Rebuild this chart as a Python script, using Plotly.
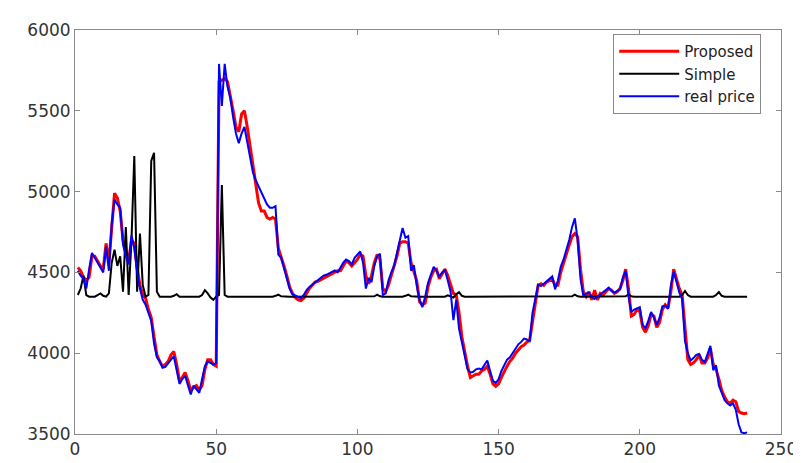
import plotly.graph_objects as go

x_idx = list(range(1, 239))

real_price = [
    4510, 4480, 4460, 4400, 4520, 4620, 4590, 4560, 4530, 4500,
    4660, 4510, 4800, 4950, 4920, 4900, 4670, 4600, 4550, 4730,
    4650, 4500, 4400, 4330, 4300, 4250, 4200, 4060, 3975, 3950,
    3910, 3915, 3940, 3960, 3980, 3890, 3810, 3840, 3860, 3800,
    3745, 3800, 3780, 3755, 3840, 3920, 3950, 3940, 3930, 3940,
    5790, 5530, 5790, 5650, 5580, 5460, 5360, 5300, 5360, 5400,
    5300, 5200, 5120, 5070, 5030, 4990, 4950, 4920, 4900, 4900,
    4910, 4610, 4590, 4530, 4460, 4400, 4365, 4355, 4345, 4340,
    4360, 4390, 4410, 4425, 4440, 4455, 4470, 4480, 4485, 4495,
    4500, 4512, 4500, 4530, 4560, 4580, 4570, 4550, 4590, 4610,
    4630, 4560, 4400, 4465, 4440, 4540, 4600, 4615, 4360, 4370,
    4450, 4500, 4540, 4620, 4700, 4775, 4715, 4725, 4510, 4545,
    4420, 4330, 4285, 4350, 4435, 4480, 4535, 4510, 4475, 4500,
    4515, 4450, 4380, 4205, 4330, 4150, 4060, 3980, 3900, 3880,
    3885, 3900, 3905, 3900, 3930, 3955, 3890, 3830, 3815, 3840,
    3890, 3930, 3960, 3975, 4000, 4030, 4055, 4070, 4090, 4085,
    4075, 4250, 4350, 4425, 4415, 4430, 4450, 4460, 4475, 4395,
    4450, 4535, 4580, 4640, 4700, 4780, 4835, 4700, 4460, 4355,
    4370, 4375, 4350, 4335, 4350, 4365, 4380, 4395, 4405, 4385,
    4375, 4385, 4395, 4470, 4510, 4350, 4255, 4270, 4280, 4285,
    4175, 4155, 4200, 4255, 4220, 4175, 4220, 4290, 4295, 4275,
    4420, 4505, 4440, 4375, 4335, 4075, 4000, 3955, 3970, 3990,
    3995, 3960, 3945, 4000, 4045, 3895, 3925, 3800, 3755, 3710,
    3690, 3676, 3690, 3650, 3560, 3510, 3505, 3510,
]

proposed = [
    4530, 4510, 4470, 4450, 4470, 4600, 4600, 4570, 4540, 4520,
    4680, 4560, 4780, 4990, 4960, 4880, 4700, 4640, 4570, 4700,
    4680, 4530, 4420, 4360, 4340, 4270, 4220, 4100, 3990, 3950,
    3920, 3930, 3950, 3990, 4010, 3930, 3830, 3850, 3880, 3830,
    3770, 3790, 3800, 3770, 3800, 3900, 3960, 3960, 3930, 3920,
    5680, 5690, 5700, 5680, 5600, 5500, 5400, 5370, 5480, 5500,
    5400, 5280, 5150, 5020, 4930, 4880, 4880, 4840, 4830, 4840,
    4830, 4650, 4600, 4540, 4480, 4410, 4370, 4345, 4330, 4325,
    4340, 4370, 4400, 4420, 4440, 4445, 4455, 4465, 4470, 4480,
    4490, 4500, 4510, 4510, 4540, 4570, 4560, 4540, 4560, 4580,
    4610, 4600, 4480, 4430, 4480, 4560, 4610, 4580, 4400, 4380,
    4420, 4480, 4530, 4600, 4680, 4690, 4690, 4680, 4560, 4500,
    4450, 4320, 4300, 4310, 4410, 4470, 4510, 4520, 4460, 4490,
    4520, 4480, 4420, 4370, 4360, 4250, 4100, 4000, 3920, 3850,
    3860, 3870, 3870, 3890, 3900, 3920, 3870, 3810, 3795, 3810,
    3850, 3890, 3920, 3950, 3970, 4000, 4020, 4040, 4050, 4070,
    4080, 4200, 4330, 4420, 4430, 4420, 4440, 4450, 4460, 4420,
    4420, 4500, 4560, 4620, 4670, 4720, 4740, 4720, 4520, 4380,
    4350, 4380, 4330, 4390, 4330, 4370, 4360, 4380, 4400, 4390,
    4370, 4380, 4400, 4450, 4520, 4400, 4230, 4240, 4270, 4260,
    4160, 4130, 4170, 4240, 4230, 4160, 4190, 4270, 4300, 4280,
    4380, 4520, 4460, 4400, 4360, 4150, 3960, 3930, 3940, 3960,
    3990, 3940, 3940, 3970, 4030, 3930, 3900, 3840, 3770, 3730,
    3700, 3690, 3710, 3700, 3640, 3630, 3625, 3630,
]

simple = [
    4360, 4400, 4480, 4360, 4350, 4350, 4350, 4360, 4370, 4355,
    4350, 4370, 4560, 4640, 4540, 4600, 4380, 4780, 4360, 4700,
    5220, 4380, 4740, 4420, 4350, 4360, 5190, 5240, 4380, 4350,
    4350, 4350, 4350, 4350, 4355, 4365, 4350, 4350, 4350, 4350,
    4350, 4350, 4350, 4350, 4360, 4390, 4370, 4345, 4330, 4350,
    4360, 5040, 4360, 4350, 4350, 4350, 4350, 4350, 4350, 4350,
    4350, 4350, 4350, 4350, 4350, 4350, 4350, 4350, 4350, 4350,
    4355, 4362, 4352, 4350, 4350, 4350, 4350, 4350, 4350, 4350,
    4350, 4350, 4350, 4350, 4350, 4350, 4350, 4350, 4350, 4350,
    4350, 4350, 4350, 4350, 4350, 4350, 4350, 4350, 4350, 4350,
    4350, 4350, 4350, 4350, 4350, 4352, 4362, 4352, 4350, 4350,
    4350, 4350, 4350, 4350, 4350, 4350, 4355, 4362, 4352, 4350,
    4350, 4350, 4350, 4350, 4350, 4350, 4350, 4350, 4350, 4350,
    4350, 4358, 4350, 4345, 4365, 4378, 4355, 4350, 4350, 4350,
    4350, 4350, 4350, 4350, 4350, 4350, 4350, 4350, 4350, 4350,
    4350, 4350, 4350, 4350, 4350, 4350, 4350, 4350, 4350, 4350,
    4350, 4350, 4350, 4350, 4350, 4350, 4350, 4350, 4350, 4350,
    4350, 4350, 4350, 4350, 4350, 4352, 4362, 4352, 4350, 4350,
    4350, 4350, 4350, 4350, 4350, 4350, 4350, 4350, 4350, 4350,
    4350, 4350, 4350, 4350, 4352, 4365, 4352, 4350, 4350, 4350,
    4350, 4350, 4350, 4350, 4350, 4350, 4350, 4350, 4350, 4350,
    4350, 4350, 4350, 4350, 4360, 4385, 4360, 4350, 4350, 4350,
    4350, 4350, 4350, 4350, 4350, 4350, 4360, 4378, 4355, 4350,
    4350, 4350, 4350, 4350, 4350, 4350, 4350, 4350,
]

x_ticks = [0, 50, 100, 150, 200, 250]
y_ticks = [3500, 4000, 4500, 5000, 5500, 6000]

FONT = "DejaVu Sans, Liberation Sans, Arial, sans-serif"

fig = go.Figure()
fig.add_trace(go.Scatter(x=x_idx, y=proposed, mode="lines", name="Proposed",
                         line=dict(color="#ff0000", width=3)))
fig.add_trace(go.Scatter(x=x_idx, y=simple, mode="lines", name="Simple",
                         line=dict(color="#000000", width=2)))
fig.add_trace(go.Scatter(x=x_idx, y=real_price, mode="lines", name="real price",
                         line=dict(color="#0000ff", width=2)))

axis_common = dict(
    showgrid=False, zeroline=False, showline=True, linecolor="#8a8a8a", linewidth=1,
    mirror="ticks", ticks="inside", ticklen=5, tickcolor="#8a8a8a",
    tickfont=dict(family=FONT, size=17, color="#333333"),
)

fig.update_layout(
    width=801, height=463,
    margin=dict(l=67, r=19, t=20, b=27),
    paper_bgcolor="white", plot_bgcolor="white",
    xaxis=dict(range=[0, 250], tickvals=x_ticks, ticktext=[str(v) for v in x_ticks], **axis_common),
    yaxis=dict(range=[3500, 6000], tickvals=y_ticks, ticktext=[str(v) for v in y_ticks], **axis_common),
    legend=dict(
        x=0.972, y=0.99, xanchor="right", yanchor="top",
        bgcolor="white", bordercolor="#8a8a8a", borderwidth=1,
        font=dict(family=FONT, size=15, color="#222222"),
        itemwidth=60, tracegroupgap=0,
    ),
    showlegend=True,
)

fig.write_html("out.html")
